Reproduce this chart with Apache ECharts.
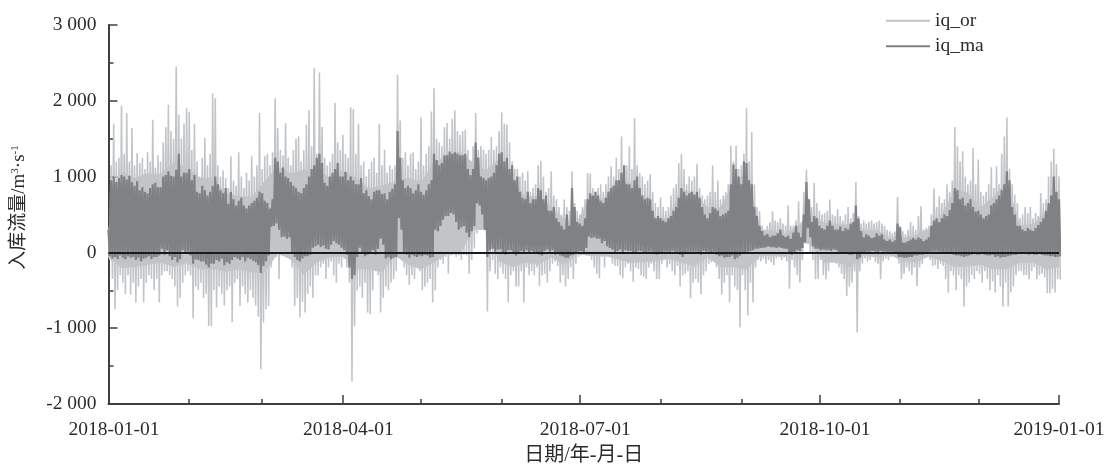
<!DOCTYPE html>
<html><head><meta charset="utf-8">
<style>html,body{margin:0;padding:0;background:#fff}#c{width:1106px;height:465px}</style>
<script src="https://cdn.jsdelivr.net/npm/echarts@6/dist/echarts.min.js"></script>
</head><body><div id="c"></div>
<script>
const startDay = '2018-01-01';
const quarterTicks = ['2018-01-01','2018-04-01','2018-07-01','2018-10-01','2019-01-01'];
const monthTicks = ['2018-02-01','2018-03-01','2018-05-01','2018-06-01','2018-08-01','2018-09-01','2018-11-01','2018-12-01'];
const yTicks = [-2000,-1000,0,1000,2000,3000];
// daily upper and lower extremes of iq_or
const orHi = [
300,1150,1697,1200,1250,1934,1300,1838,1200,1640,
1150,1310,1180,1250,1100,1320,1200,1750,1120,1280,
1200,1450,1650,1947,1600,1500,2452,1816,1500,1700,
1900,1850,1350,1697,1200,1000,1250,1509,1150,1300,
2100,2035,1150,1000,1080,980,850,1267,950,880,
1320,1000,850,1050,950,1267,1000,1150,1838,1100,
1267,1300,1150,1320,2035,1640,1350,1280,1706,1250,
1150,1350,1500,1530,1200,1350,1684,1880,1400,2430,
1300,2372,1653,1250,1150,1200,1300,1970,1450,1350,
1552,1300,1250,1916,1890,1300,1697,1150,1200,1000,
1100,1200,1250,1050,1697,1150,1355,1050,1150,1100,
1150,2342,1740,1250,1320,1150,1300,1320,1100,1200,
1780,1150,1300,1400,1860,2167,1500,1450,1400,1650,
1706,1500,1763,1873,1600,1550,1600,1618,1350,1200,
1400,1838,1350,1400,1350,1300,1350,1522,1350,1400,
1600,1846,1697,1684,1450,1200,1100,1100,1000,1050,
950,1070,800,850,900,1150,1210,1000,800,850,
1070,750,700,600,500,697,600,550,1070,650,
550,500,600,700,1048,1040,850,800,850,900,
800,900,1000,1136,1000,1250,1100,1530,1100,1150,
1400,1100,1772,1150,1048,1000,900,950,1035,800,
650,600,728,600,550,600,750,850,900,1180,
1298,1100,900,1000,950,1000,1171,850,750,700,
750,800,1145,800,950,700,750,800,900,1408,
1200,1408,1100,1150,1300,1903,1200,1588,900,600,
544,350,300,350,400,544,420,400,450,380,
350,618,350,350,420,675,400,800,1092,700,
600,917,650,550,500,520,550,697,500,480,
570,480,420,500,600,450,520,930,480,380,
420,380,400,420,380,400,420,380,350,300,
280,260,280,732,350,280,240,300,400,350,
300,480,610,300,320,350,500,842,600,741,
650,700,900,800,950,1653,1400,1200,1333,1000,
900,950,1377,900,1224,800,750,800,900,1123,
850,1136,900,1300,1530,1780,1100,900,763,650,
450,500,600,520,600,450,520,480,785,650,
700,1000,1200,1368,1167,1000];
const orLo = [
-100,-350,-750,-500,-300,-400,-550,-300,-560,-400,
-660,-450,-350,-660,-400,-300,-350,-495,-350,-660,
-300,-250,-250,-300,-350,-450,-715,-600,-400,-300,
-250,-300,-873,-450,-500,-400,-600,-550,-970,-970,
-500,-728,-450,-550,-700,-500,-450,-917,-400,-350,
-706,-450,-550,-660,-500,-600,-700,-850,-1540,-925,
-750,-706,-200,-50,-60,-355,-40,-30,-50,-60,
-200,-706,-600,-860,-650,-794,-550,-450,-600,-300,
-300,-200,-150,-350,-200,-120,-300,-400,-150,-200,
-80,-200,-400,-1702,-970,-500,-450,-600,-400,-794,
-816,-500,-250,-300,-794,-600,-450,-500,-400,-350,
-250,-60,-80,-200,-300,-430,-300,-350,-200,-250,
-500,-450,-400,-350,-660,-500,-200,-100,-150,-60,
-280,-40,-30,-60,-40,-100,-30,-40,-280,-100,
50,250,450,420,300,-780,-250,-100,-280,-350,
-200,-280,-350,-662,-300,-250,-450,-450,-250,-662,
-200,-300,-250,-300,-200,-443,-300,-280,-400,-250,
-150,-120,-180,-400,-300,-450,-350,-200,-350,-150,
-60,-40,-30,-40,-50,-100,-200,-280,-340,-60,
-200,-40,-50,-150,-180,-180,-300,-340,-200,-150,
-250,-386,-200,-220,-300,-320,-350,-200,-150,-250,
-350,-350,-150,-100,-200,-150,-250,-300,-180,-450,
-300,-280,-250,-605,-400,-350,-400,-552,-300,-250,
-150,-130,-120,-200,-350,-560,-400,-300,-662,-300,
-450,-500,-990,-300,-500,-830,-400,-662,-200,-100,
-120,-90,-150,-100,-130,-170,-80,-60,-100,-70,
-120,-478,-100,-200,-300,-400,-100,120,300,-20,
-100,-355,-350,-100,-300,-355,-250,-100,-60,-150,
-200,-280,-350,-575,-450,-400,-250,-1057,-250,-150,
-80,-120,-100,-60,-130,-150,-355,-120,-80,-100,
-60,-40,-50,-150,-355,-280,-200,-250,-300,-200,
-443,-200,-150,-70,-60,-100,-180,-170,-220,-150,
-180,-350,-530,-250,-300,-500,-300,-350,-715,-450,
-400,-300,-350,-250,-280,-400,-250,-350,-500,-380,
-530,-300,-450,-715,-400,-715,-530,-450,-300,-250,
-250,-300,-300,-355,-250,-200,-350,-300,-280,-330,
-540,-540,-480,-530,-350,-360];
// five-day extents of the solid body of iq_or
const orBodyHi = [
300,1050,980,1040,1030,1180,1120,980,980,780,
740,730,940,1130,1040,1090,1090,980,1080,980,
840,880,930,980,930,1180,1280,1330,1180,1080,
1230,980,730,740,590,440,400,740,690,930,
930,740,450,450,830,780,590,590,930,1030,
300,280,240,350,470,390,370,370,290,290,
190,190,220,310,500,830,780,590,740,930,
350,370,540,820];
const orBodyLo = [
-70,-200,-190,-160,-130,-190,-140,-220,-220,-250,
-220,-260,-260,-10,-90,-290,-130,-60,-50,-220,
-220,-260,-40,-160,-220,-130,-20,-20,300,300,
-110,-190,-130,-160,-60,-160,-20,-40,-40,-80,
-130,-130,-110,-80,-130,-180,-60,-190,-190,-220,
-50,-40,-50,150,100,-130,-130,-190,-40,-60,
-30,-110,-130,-50,-110,-190,-180,-160,-220,-220,
-130,-130,-220,-190];
// daily upper and lower extremes of iq_ma
const maHi = [
300,950,1000,930,980,1020,1000,960,1010,930,
880,940,820,860,800,780,850,900,920,860,
860,1000,1020,1070,1010,1000,1090,1300,1000,1050,
1050,1100,950,1020,800,780,880,820,750,800,
880,1000,900,820,780,850,640,800,700,620,
680,720,620,580,620,650,680,720,800,780,
680,650,580,700,1250,1200,1050,1120,1000,980,
930,880,850,800,780,850,900,1000,1100,1150,
1250,1300,1180,920,880,1000,1050,1100,1180,1000,
1000,1060,950,1000,950,900,900,980,780,820,
740,700,800,820,820,770,780,700,800,840,
900,1600,1250,950,850,880,850,780,820,900,
800,760,820,900,950,1300,1220,1150,1180,1280,
1280,1330,1300,1320,1300,1280,1280,1300,1100,1020,
1100,1450,1250,1000,980,950,980,1000,1050,1150,
1300,1320,1200,1250,1100,1150,950,1000,800,720,
700,800,650,700,700,850,820,700,750,550,
550,600,450,400,350,300,500,350,850,600,
400,380,350,450,700,780,750,800,750,680,
650,720,800,850,880,950,950,1050,1150,900,
900,850,950,1000,850,750,700,720,700,550,
450,480,450,420,400,450,480,550,600,720,
850,800,750,780,800,760,800,720,600,500,
450,520,600,580,550,480,500,520,550,900,
1160,1100,1000,900,1200,1180,950,900,600,480,
350,280,220,240,200,220,220,250,300,220,
200,220,180,260,350,260,200,500,930,700,
400,480,450,350,320,300,350,420,350,300,
300,340,280,320,300,380,400,620,450,280,
200,240,220,190,200,250,220,240,170,150,
170,140,160,380,330,130,130,150,170,190,
170,200,180,150,170,200,350,420,450,400,
450,500,480,560,650,850,820,700,720,620,
650,700,600,540,550,500,450,480,500,620,
650,700,750,820,900,1070,950,600,500,350,
350,300,280,320,300,280,320,360,400,450,
550,650,750,1000,800,700];
const maLo = [
-50,-80,-60,-90,-40,-70,-90,-50,-70,-60,
-100,-70,-120,-80,-70,-50,-90,-60,-60,-40,
50,-30,30,-50,-100,-60,-130,-90,30,-20,
10,-40,-150,-90,-100,-120,-120,-160,-200,-150,
-150,-100,-120,-80,-170,-130,-150,-100,-60,-80,
-100,-60,-120,-70,-90,-110,-130,-170,-270,-180,
-120,-40,340,350,380,300,200,210,180,200,
-20,-60,-100,-120,-80,-50,-50,-30,60,80,
100,70,90,50,40,100,150,120,100,60,
30,-30,-200,-350,-300,-60,60,-20,-50,-30,
-20,30,-30,50,180,100,-80,-60,-90,-70,
-60,450,300,-20,-30,-70,-30,-50,-60,-40,
-50,-30,-40,-70,-60,300,280,350,430,480,
480,520,500,400,300,330,350,260,200,280,
350,650,620,500,300,-60,30,50,10,40,
40,-20,-30,30,30,-20,-40,0,20,-10,
30,-20,20,-10,-20,-30,-40,20,40,10,
30,-30,-20,-40,-50,-70,-70,-40,-30,0,
10,20,-10,60,210,190,200,180,180,120,
150,80,60,40,-10,20,40,-10,30,20,
20,0,-10,20,20,-10,-10,10,10,-20,
-30,-10,-10,10,10,-10,20,10,-20,-30,
-60,-20,10,-10,10,10,-10,-30,20,10,
10,-10,10,-30,-50,-40,-70,-60,-60,-40,
-90,-70,-40,-20,-10,10,20,30,50,50,
60,60,70,80,70,70,60,70,60,50,
50,-20,-30,10,30,20,60,130,320,200,
80,50,50,30,40,30,30,20,40,30,
-10,-20,-20,-10,-30,-30,-20,-90,-70,-10,
0,10,10,20,10,0,20,10,10,-10,
10,-10,-20,-60,-60,-70,-70,-60,-60,-40,
-40,-30,-30,-10,-10,0,10,10,10,0,
5,-10,-5,-20,-30,-40,-40,-50,-60,-50,
-40,-30,-20,-30,-30,-20,-30,-40,-40,-30,
-60,-50,-70,-60,-60,-50,-40,-30,-30,-20,
-10,-20,-10,-30,-20,-30,-30,-20,-30,-40,
-40,-50,-50,-60,-60,-50];

const DAY = 86400000;
const t0 = Date.parse(startDay);
function zigzag(hi, lo, step) {
  const out = [];
  hi.forEach((v, i) => {
    out.push([t0 + i * step * DAY, v]);
    out.push([t0 + (i + 0.5) * step * DAY, lo[i]]);
  });
  return out;
}
const bodyRows = orBodyHi.slice(0, -1).map((v, i) => [
  t0 + i * 5 * DAY, orBodyLo[i], v,
  t0 + (i + 1) * 5 * DAY, orBodyLo[i + 1], orBodyHi[i + 1]
]);
const ms = s => Date.parse(s);
function fmtDate(v) { const s = new Date(v).toISOString().slice(0, 10); return (s === quarterTicks[4] ? '{q|' : '{p|') + s + '}'; }
function fmtNum(v) { const a = Math.abs(v); const s = a >= 1000 ? Math.floor(a / 1000) + ' ' + String(a % 1000).padStart(3, '0') : String(a); return (v < 0 ? '-' : '') + s; }
const SERIF = '"Liberation Serif","Noto Sans CJK SC",serif';
const INK = '#2b2b2b', AXIS = '#3f3f3f', LIGHT = '#c2c5c8', MID = '#7f8184';
const chart = echarts.init(document.getElementById('c'), null, {renderer: 'canvas'});
const timeRange = {type: 'value', min: ms(quarterTicks[0]), max: ms(quarterTicks[4])};
chart.setOption({
  animation: false, backgroundColor: '#fff',
  textStyle: {fontFamily: SERIF},
  grid: {left: 108.5, right: 47, top: 25, bottom: 61, containLabel: false, outerBoundsMode: 'none'},
  legend: {
    orient: 'vertical', left: 886, top: 11, padding: 0, itemWidth: 44, itemHeight: 14, itemGap: 6,
    icon: 'path://M0 0H44V2H0Z',
    textStyle: {fontFamily: SERIF, fontSize: 19.5, color: INK},
    data: ['iq_or', 'iq_ma']
  },
  xAxis: [
    Object.assign({}, timeRange, {
      position: 'bottom', name: '日期/年-月-日', nameLocation: 'middle', nameGap: 42,
      nameTextStyle: {fontFamily: SERIF, fontSize: 20, color: INK},
      axisLine: {show: true, onZero: false, lineStyle: {color: AXIS, width: 2}},
      axisTick: {show: true, inside: true, length: 9, customValues: quarterTicks.map(ms), lineStyle: {color: AXIS, width: 1.5}},
      axisLabel: {show: true, customValues: quarterTicks.map(ms), formatter: fmtDate, color: INK, margin: 16, showMinLabel: true, showMaxLabel: true, hideOverlap: false,
        rich: {p: {fontFamily: SERIF, fontSize: 19.5, color: INK, padding: [0,0,0,11]},
               q: {fontFamily: SERIF, fontSize: 19.5, color: INK}}},
      splitLine: {show: false}
    }),
    Object.assign({}, timeRange, {
      position: 'bottom',
      axisLine: {show: false, onZero: false},
      axisTick: {show: true, inside: true, length: 5, customValues: monthTicks.map(ms), lineStyle: {color: AXIS, width: 1.5}},
      axisLabel: {show: false},
      splitLine: {show: false}
    })
  ],
  yAxis: {
    type: 'value', min: yTicks[0], max: yTicks[5], interval: 1000,
    name: '入库流量/m{s|3}·s{s|-1}', nameLocation: 'middle', nameRotate: 90, nameGap: 80,
    nameTextStyle: {fontFamily: SERIF, fontSize: 19, color: INK, padding: [0,0,0,14],
      rich: {s: {fontFamily: SERIF, fontSize: 11, color: INK, verticalAlign: 'top', lineHeight: 18}}},
    axisLine: {show: true, onZero: false, lineStyle: {color: AXIS, width: 2}},
    axisTick: {show: true, inside: true, length: 9, lineStyle: {color: AXIS, width: 1.5}},
    minorTick: {show: true, splitNumber: 2, length: 5, lineStyle: {color: AXIS, width: 1.5}},
    axisLabel: {formatter: fmtNum, fontFamily: SERIF, fontSize: 19.5, color: INK, margin: 12},
    splitLine: {show: false}, minorSplitLine: {show: false}
  },
  series: [
    {name: 'iq_or body', type: 'custom', z: 1, silent: true, clip: true, data: bodyRows,
      encode: {x: [0, 3], y: [1, 2, 4, 5]},
      renderItem: function (params, api) {
        const a = api.coord([api.value(0), api.value(1)]), b = api.coord([api.value(0), api.value(2)]);
        const c = api.coord([api.value(3), api.value(5)]), d = api.coord([api.value(3), api.value(4)]);
        return {type: 'polygon', shape: {points: [a, b, c, d]}, style: {fill: LIGHT, stroke: LIGHT, lineWidth: 0.6}};
      }},
    {name: 'iq_or', type: 'line', z: 2, showSymbol: false, symbol: 'none', sampling: false, data: zigzag(orHi, orLo, 1),
      lineStyle: {color: LIGHT, width: 1.6, join: 'bevel'}, itemStyle: {color: LIGHT}},
    {name: 'iq_ma', type: 'line', z: 3, showSymbol: false, symbol: 'none', sampling: false, data: zigzag(maHi, maLo, 1),
      lineStyle: {color: MID, width: 2.2, join: 'bevel'}, itemStyle: {color: MID},
      markLine: {silent: true, symbol: 'none', label: {show: false}, animation: false,
        lineStyle: {color: '#1a1a1a', width: 2, type: 'solid'}, data: [{yAxis: 0}]}}
  ]
});
</script></body></html>
